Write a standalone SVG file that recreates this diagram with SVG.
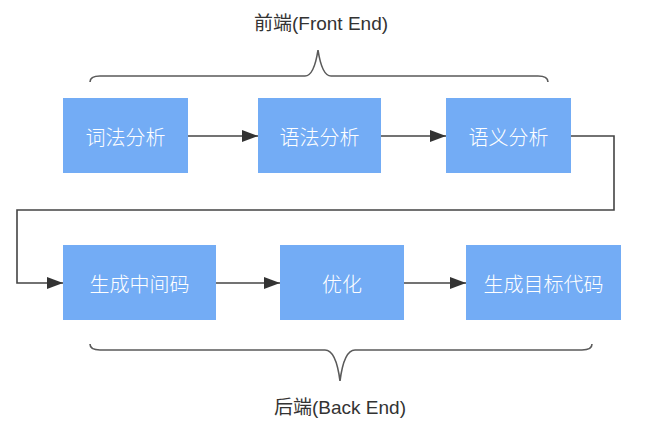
<svg xmlns="http://www.w3.org/2000/svg" width="650" height="431" viewBox="0 0 650 431">
<defs>
<style>
.box{fill:#73acf5;}
.lbl{fill:#ffffff;font-family:"Noto Sans CJK SC","Noto Sans",sans-serif;font-size:20px;font-weight:300;text-anchor:middle;dominant-baseline:central;}
.cap{fill:#333333;font-family:"Liberation Sans","Noto Sans CJK SC",sans-serif;font-size:19px;text-anchor:middle;}
.edge{fill:none;stroke:#444444;stroke-width:1.6;}
.brace{fill:none;stroke:#5a5a5a;stroke-width:1.6;}
</style>
<marker id="arrow" viewBox="0 0 16 12" refX="16" refY="6" markerWidth="16" markerHeight="12" orient="auto" markerUnits="userSpaceOnUse">
<path d="M0,0 L16,6 L0,12 z" fill="#333333"/>
</marker>
</defs>
<rect width="650" height="431" fill="#ffffff"/>
<g id="front-label"><text class="cap" x="321" y="30">前端(Front End)</text></g>
<g id="front-brace"><path class="brace" d="M90,82 Q90,76 100,76 L305,76 Q314,76 318,50 Q322,76 331,76 L538,76 Q548,76 548,82"/></g>
<g id="n1"><rect class="box" x="63" y="98" width="125" height="75"/><text class="lbl" x="125.5" y="136">词法分析</text></g>
<g id="n2"><rect class="box" x="258" y="98" width="123" height="75"/><text class="lbl" x="319.5" y="136">语法分析</text></g>
<g id="n3"><rect class="box" x="446" y="98" width="125" height="75"/><text class="lbl" x="508.5" y="136">语义分析</text></g>
<g id="n4"><rect class="box" x="63" y="245" width="153" height="75"/><text class="lbl" x="139.5" y="283">生成中间码</text></g>
<g id="n5"><rect class="box" x="280" y="245" width="124" height="75"/><text class="lbl" x="342" y="283">优化</text></g>
<g id="n6"><rect class="box" x="466" y="245" width="155" height="75"/><text class="lbl" x="543.5" y="283">生成目标代码</text></g>
<g id="connectors">
<path class="edge" d="M188,136 L258,136" marker-end="url(#arrow)"/>
<path class="edge" d="M381,136 L446,136" marker-end="url(#arrow)"/>
<path class="edge" d="M571,136 L614,136 L614,210 L17,210 L17,283 L63,283" marker-end="url(#arrow)"/>
<path class="edge" d="M216,283 L280,283" marker-end="url(#arrow)"/>
<path class="edge" d="M404,283 L466,283" marker-end="url(#arrow)"/>
</g>
<g id="back-brace"><path class="brace" d="M90,344 Q90,350 100,350 L325,350 Q336,350 340,381 Q344,350 355,350 L582,350 Q592,350 592,344"/></g>
<g id="back-label"><text class="cap" x="340" y="414">后端(Back End)</text></g>
</svg>
